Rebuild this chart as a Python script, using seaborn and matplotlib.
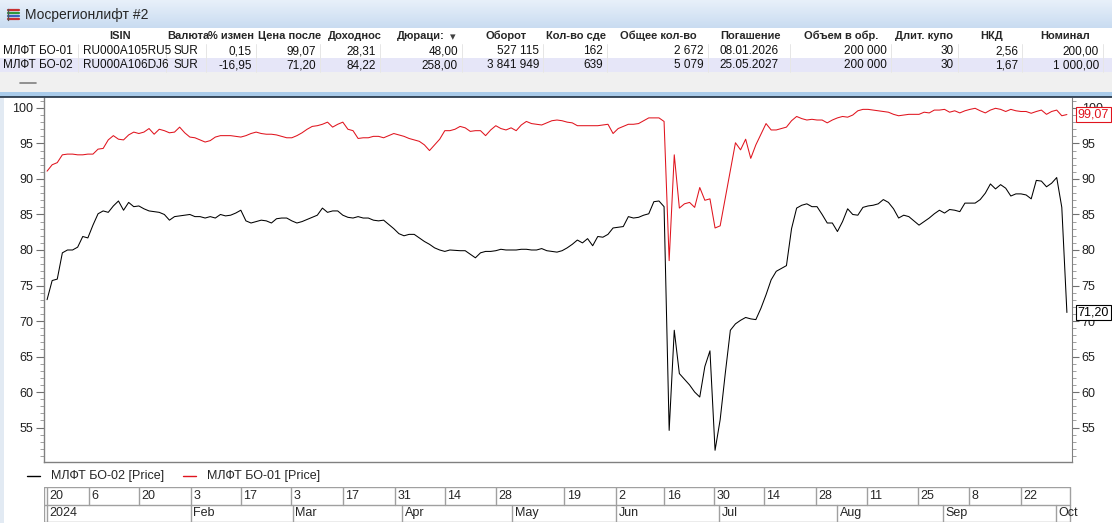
import numpy as np
import pandas as pd
import matplotlib
matplotlib.use("Agg")
import matplotlib.pyplot as plt
import seaborn as sns
from matplotlib.patches import Rectangle
from matplotlib.lines import Line2D
from matplotlib.ticker import MultipleLocator
from matplotlib.colors import LinearSegmentedColormap

# one close price per trading day
bo01 = [91.1, 92.0, 92.3, 93.4, 93.5, 93.5, 93.4, 93.4, 93.5, 93.5,
        94.2, 94.3, 95.5, 96.1, 95.6, 95.5, 96.2, 96.6, 96.4, 96.6,
        97.1, 96.3, 97.0, 96.8, 96.5, 96.6, 97.3, 96.5, 95.9, 95.8,
        95.5, 95.2, 95.4, 95.9, 96.1, 96.1, 96.1, 96.0, 95.9, 96.1,
        96.4, 96.6, 96.4, 96.3, 96.3, 96.2, 96.0, 95.8, 95.8, 96.1,
        96.5, 97.0, 97.4, 97.5, 97.7, 98.0, 97.3, 97.7, 98.0, 97.0,
        96.8, 95.7, 95.8, 95.8, 96.0, 96.0, 95.8, 96.1, 96.4, 96.2,
        96.0, 95.7, 95.5, 95.3, 94.8, 94.0, 94.8, 95.6, 96.8, 96.8,
        97.0, 97.4, 97.2, 96.7, 96.8, 96.8, 96.1, 96.9, 97.5, 97.1,
        96.9, 97.2, 96.8, 97.6, 98.1, 97.8, 97.7, 97.6, 97.9, 98.2,
        98.3, 98.2, 98.0, 97.9, 97.5, 97.5, 97.5, 97.5, 97.5, 97.6,
        97.7, 96.4, 97.1, 97.4, 97.7, 97.7, 97.8, 98.2, 98.6, 98.6,
        98.6, 98.1, 78.5, 93.4, 85.9, 86.5, 86.7, 86.0, 88.8, 87.0,
        87.2, 83.1, 83.4, 87.3, 91.2, 95.1, 94.1, 95.6, 92.9, 94.8,
        96.3, 97.8, 96.9, 96.9, 97.1, 97.3, 98.2, 98.8, 98.5, 98.3,
        98.4, 98.3, 98.3, 97.9, 98.3, 98.6, 98.8, 98.7, 99.0, 99.6,
        99.8, 99.8, 99.7, 99.6, 99.5, 99.4, 99.1, 98.9, 99.0, 99.1,
        99.1, 99.1, 99.4, 99.3, 99.7, 99.7, 99.8, 99.4, 99.6, 99.3,
        99.6, 99.8, 99.95, 99.6, 99.3, 99.7, 99.95, 99.8, 99.5, 99.8,
        99.6, 99.5, 99.5, 99.25, 99.5, 99.7, 99.1, 99.5, 99.7, 98.9,
        99.07]

bo02 = [73.0, 75.7, 75.9, 79.6, 80.0, 80.0, 80.4, 81.9, 81.7, 83.5,
        85.1, 85.5, 85.3, 86.2, 86.9, 85.6, 86.7, 86.1, 86.2, 85.8,
        85.5, 85.4, 85.3, 85.0, 84.2, 84.7, 84.8, 84.9, 85.0, 84.7,
        84.7, 84.5, 84.7, 84.5, 85.0, 84.8, 84.9, 85.2, 85.6, 84.1,
        83.8, 84.0, 84.2, 84.1, 83.8, 84.4, 84.5, 84.5, 84.1, 83.8,
        84.0, 84.3, 84.6, 84.9, 85.9, 85.3, 85.5, 85.5, 84.9, 84.6,
        84.5, 84.7, 84.5, 84.5, 84.2, 84.1, 84.2, 83.6, 83.0, 82.3,
        82.0, 82.2, 82.2, 81.7, 81.2, 80.8, 80.3, 80.0, 79.8, 80.0,
        79.95, 79.9, 79.9, 79.4, 78.9, 79.6, 79.8, 79.8, 79.9, 80.1,
        80.0, 80.0, 80.0, 80.1, 80.1, 80.0, 80.0, 80.2, 79.9, 79.8,
        79.7, 79.9, 80.3, 80.8, 81.4, 81.0, 81.6, 80.6, 81.9, 81.8,
        82.2, 83.1, 83.2, 83.3, 84.7, 84.5, 84.6, 84.9, 85.1, 86.8,
        86.9, 86.1, 54.6, 68.7, 62.6, 61.8, 61.0, 60.0, 59.3, 63.6,
        65.8, 51.8, 56.1, 62.6, 68.7, 69.6, 70.1, 70.5, 70.3, 70.2,
        71.8, 73.7, 75.8, 77.0, 77.4, 77.8, 83.0, 85.9, 86.3, 86.5,
        86.1, 86.1, 85.0, 83.8, 83.8, 82.6, 84.0, 85.8, 85.0, 84.9,
        86.0, 86.2, 86.3, 86.5, 87.1, 86.7, 85.8, 84.5, 84.9, 84.7,
        84.1, 83.5, 84.0, 84.5, 85.1, 85.6, 85.2, 85.7, 85.6, 85.4,
        86.6, 86.6, 86.6, 87.1, 88.0, 89.3, 88.6, 89.2, 88.7, 87.6,
        87.9, 87.9, 87.75, 87.2, 89.8, 89.7, 88.9, 89.4, 90.2, 86.0,
        71.2]

name01 = "МЛФТ БО-01 [Price]"
name02 = "МЛФТ БО-02 [Price]"

# date strip: label and trading-day index where each cell begins
day_labels = ["20", "6", "20", "3", "17", "3", "17", "31", "14", "28",
              "19", "2", "16", "30", "14", "28", "11", "25", "8", "22"]
day_starts = [-0.6, 8.2, 18.0, 28.2, 38.0, 47.8, 58.0, 68.2, 78.0, 88.0,
              101.4, 111.6, 121.0, 130.8, 140.6, 150.8, 160.8, 170.8, 180.8, 191.0]
month_labels = ["2024", "Feb", "Mar", "Apr", "May", "Jun", "Jul", "Aug", "Sep", "Oct"]
month_starts = [-0.6, 28.2, 48.2, 69.6, 91.2, 111.6, 131.8, 154.9, 175.7, 197.8]

headers = ["ISIN", "Валюта", "% измен", "Цена после", "Доходнос", "Дюраци:",
           "Оборот", "Кол-во сде", "Общее кол-во", "Погашение", "Объем в обр.",
           "Длит. купо", "НКД", "Номинал"]
row01 = ["МЛФТ БО-01", "RU000A105RU5", "SUR", "0,15", "99,07", "28,31", "48,00",
         "527 115", "162", "2 672", "08.01.2026", "200 000", "30", "2,56", "200,00"]
row02 = ["МЛФТ БО-02", "RU000A106DJ6", "SUR", "-16,95", "71,20", "84,22", "258,00",
         "3 841 949", "639", "5 079", "25.05.2027", "200 000", "30", "1,67", "1 000,00"]

sns.set_style("white")
plt.rcParams["font.family"] = ["Liberation Sans", "DejaVu Sans"]

W, H = 1112, 523
fig = plt.figure(figsize=(W / 100, H / 100), dpi=100)


def fx(x):
    return x / W


def fy(y):
    return 1 - y / H


def box(x0, y0, x1, y1, **kw):
    fig.add_artist(Rectangle((fx(x0), fy(y1)), (x1 - x0) / W, (y1 - y0) / H,
                             transform=fig.transFigure, **kw))


def seg(x0, y0, x1, y1, **kw):
    fig.add_artist(Line2D([fx(x0), fx(x1)], [fy(y0), fy(y1)],
                          transform=fig.transFigure, **kw))


# window chrome
tax = fig.add_axes([0, fy(28), 1, 28 / H])
grad = np.linspace(0, 1, 50).reshape(-1, 1)
tax.imshow(grad, aspect="auto", cmap=LinearSegmentedColormap.from_list("t", ["#e8f0fa", "#c9dcf1"]))
tax.axis("off")
for i, c in enumerate(["#c83030", "#2e9a3e", "#3a62c0", "#c83030"]):
    seg(8, 10 + i * 3, 19, 10 + i * 3, color=c, lw=1.6)
seg(8, 9, 8, 20, color="#555555", lw=1)
fig.text(fx(25), fy(15), "Мосрегионлифт #2", fontsize=10, va="center", ha="left")

box(0, 28, W, 44, color="white", lw=0)
box(0, 44, W, 58, color="white", lw=0)
box(0, 58, W, 72, color="#e6e6f8", lw=0)
box(0, 72, W, 92, color="#f0f0f0", lw=0)
box(0, 92, W, 97, color="#a9cbea", lw=0)
seg(0, 97, W, 97, color="#1e2e40", lw=1.2)
seg(20, 83, 36, 83, color="#808080", lw=1.2)
box(0, 98, 4, H, color="#e2eaf3", lw=0)

for xb in [78, 166, 206, 256, 320, 380, 462, 543, 607, 708, 790, 891, 958, 1022, 1103]:
    seg(xb, 44, xb, 72, color="#e6e6e6", lw=0.7)

head_x = [(120, "center"), (167, "left"), (208, "left"), (258, "left"), (328, "left"),
          (397, "left"), (506, "center"), (546, "left"), (620, "left"), (720, "left"),
          (804, "left"), (895, "left"), (980, "left"), (1040, "left")]
for txt, (x, ha) in zip(headers, head_x):
    fig.text(fx(x), fy(36), txt, fontsize=8, fontweight="bold", ha=ha, va="center")
fig.text(fx(450), fy(37), "▾", fontsize=8, ha="left", va="center", family="DejaVu Sans", color="#404040")

val_x = [(3, "left"), (83, "left"), (174, "left"), (252, "right"), (316, "right"),
         (376, "right"), (458, "right"), (539, "right"), (603, "right"), (704, "right"),
         (719, "left"), (887, "right"), (954, "right"), (1018, "right"), (1099, "right")]
for row, yc in [(row01, 51), (row02, 65)]:
    for txt, (x, ha) in zip(row, val_x):
        fig.text(fx(x), fy(yc), txt, fontsize=8.5, ha=ha, va="center", color="#111111")

# price chart
n = len(bo01)
df = pd.DataFrame({
    "day": list(range(n)) * 2,
    "price": bo02 + bo01,
    "bond": [name02] * n + [name01] * n,
})

x_lo, x_hi = -0.6, 201.0
ax = fig.add_axes([fx(44), fy(462), (1072 - 44) / W, (462 - 98) / H])
sns.lineplot(data=df, x="day", y="price", hue="bond",
             palette={name02: "black", name01: "#e0141e"},
             linewidth=0.75, legend=False, ax=ax)
ax.set_xlim(x_lo, x_hi)
ax.set_ylim(50.15, 101.4)
ax.set_xlabel("")
ax.set_ylabel("")
ax.set_xticks([])
for s in ["top", "right"]:
    ax.spines[s].set_visible(False)
for s in ["left", "bottom"]:
    ax.spines[s].set_color("#808080")
    ax.spines[s].set_linewidth(1)
ax.yaxis.set_major_locator(MultipleLocator(5))
ax.yaxis.set_minor_locator(MultipleLocator(1))
ax.tick_params(axis="y", which="major", length=6, width=0.8, color="#707070",
               labelsize=9, pad=2, labelcolor="#202020", left=True)
ax.tick_params(axis="y", which="minor", length=3, width=0.6, color="#909090", left=True)

axr = ax.twinx()
axr.set_ylim(ax.get_ylim())
for s in ["top", "left", "bottom"]:
    axr.spines[s].set_visible(False)
axr.spines["right"].set_color("#808080")
axr.yaxis.set_major_locator(MultipleLocator(5))
axr.yaxis.set_minor_locator(MultipleLocator(1))
axr.tick_params(axis="y", which="major", length=5, width=0.8, color="#707070",
                labelsize=9, pad=2, labelcolor="#202020", right=True)
axr.tick_params(axis="y", which="minor", length=3, width=0.6, color="#909090", right=True)
axr.grid(False)
ax.grid(False)

for val, col in [(bo01[-1], "#e0141e"), (bo02[-1], "black")]:
    axr.annotate(f"{val:.2f}".replace(".", ","), xy=(1, val),
                 xycoords=("axes fraction", "data"), xytext=(4, 0),
                 textcoords="offset points", va="center", ha="left",
                 fontsize=9, color=col, zorder=5,
                 bbox=dict(boxstyle="square,pad=0.15", fc="white", ec=col, lw=0.8))

# legend
seg(27, 476, 40, 476, color="black", lw=1)
fig.text(fx(51), fy(476), name02, fontsize=9, va="center", ha="left")
seg(183, 476, 196, 476, color="#e0141e", lw=1)
fig.text(fx(207), fy(476), name01, fontsize=9, va="center", ha="left")

# date strip
axd = fig.add_axes([fx(44), fy(522), (1072 - 44) / W, (522 - 487) / H])
axd.set_xlim(x_lo, x_hi)
axd.set_ylim(0, 2)
axd.axis("off")
gc = "#a0a0a0"
axd.plot([x_lo, 200.6, 200.6, x_lo, x_lo], [0, 0, 2, 2, 0], color=gc, lw=1)
axd.plot([x_lo, 200.6], [1, 1], color=gc, lw=1)
axd.plot([x_lo + 0.6, x_lo + 0.6], [0, 2], color=gc, lw=1)
for d, lab in zip(day_starts, day_labels):
    if d > 0:
        axd.plot([d, d], [1, 2], color=gc, lw=1)
    axd.text(max(d, 0) + 0.5, 1.5, lab, fontsize=9, va="center", ha="left")
for d, lab in zip(month_starts, month_labels):
    if d > 0:
        axd.plot([d, d], [0, 1], color=gc, lw=1)
    axd.text(max(d, 0) + 0.5, 0.5, lab, fontsize=9, va="center", ha="left")

fig.savefig("out.png", dpi=100)
